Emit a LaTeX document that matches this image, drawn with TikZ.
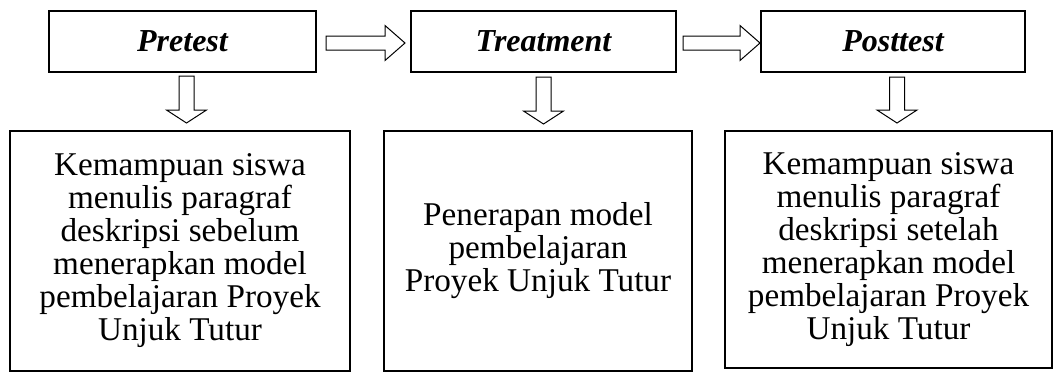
\documentclass[tikz,border=0pt]{standalone}
\usepackage{fontspec}
\setmainfont{Liberation Serif}
\usetikzlibrary{calc}

% block arrows: #1 tail, #2 tip
\newcommand{\blockright}[2]{%
  \draw[blockarrow] let \p1=(#1), \p2=(#2) in
    (\x1,\y1+3.5pt) -- (\x2-10pt,\y1+3.5pt) -- (\x2-10pt,\y1+8.75pt) -- (\x2,\y1)
    -- (\x2-10pt,\y1-8.75pt) -- (\x2-10pt,\y1-3.5pt) -- (\x1,\y1-3.5pt) -- cycle;}
\newcommand{\blockdown}[2]{%
  \draw[blockarrow] let \p1=(#1), \p2=(#2) in
    (\x1-3.75pt,\y1) -- (\x1-3.75pt,\y2+6.5pt) -- (\x1-10pt,\y2+6.5pt) -- (\x1,\y2)
    -- (\x1+10pt,\y2+6.5pt) -- (\x1+3.75pt,\y2+6.5pt) -- (\x1+3.75pt,\y1) -- cycle;}

\tikzset{
  stage/.style={draw, line width=0.9pt, inner sep=0pt, outer sep=0pt,
    minimum height=30.5pt, font=\fontsize{16}{16.5}\selectfont\bfseries\itshape},
  detail/.style={draw, line width=0.9pt, inner sep=0pt, outer sep=0pt, align=center,
    font=\fontsize{16.6}{16.5}\selectfont},
  blockarrow/.style={draw, line width=0.5pt, line join=miter}
}

\begin{document}
\begin{tikzpicture}[x=0.5pt, y=-0.5pt]
    \useasboundingbox (0,0) rectangle (1059,372);

    % Stages
    \node[stage, minimum width=133.5pt] (pre) at (182.5, 41.5) {Pretest};
    \node[stage, minimum width=132.5pt] (treat) at (543.5, 41.5) {Treatment};
    \node[stage, minimum width=132pt] (post) at (893, 41.5) {Posttest};

    % Descriptions
    \node[detail, minimum width=170pt, minimum height=120pt] (predesc) at (180, 251)
      {Kemampuan siswa\\ menulis paragraf\\ deskripsi sebelum\\ menerapkan model\\ pembelajaran Proyek\\ Unjuk Tutur};
    \node[detail, minimum width=154pt, minimum height=120pt] (treatdesc) at (538, 251)
      {Penerapan model\\ pembelajaran\\ Proyek Unjuk Tutur};
    \node[detail, minimum width=163.5pt, minimum height=118.5pt] (postdesc) at (888.5, 249.5)
      {Kemampuan siswa\\ menulis paragraf\\ deskripsi setelah\\ menerapkan model\\ pembelajaran Proyek\\ Unjuk Tutur};

    % Arrows between stages
    \blockright{$(pre.east)+(10,1.5)$}{$(treat.west)+(-6,1.5)$}
    \blockright{$(treat.east)+(7,1.5)$}{$(post.west)+(-1,1.5)$}

    % Arrows down to descriptions
    \blockdown{$(pre.south)+(4,4)$}{$(predesc.north)+(6,-8)$}
    \blockdown{$(treat.south)+(0,5)$}{$(treatdesc.north)+(5,-7)$}
    \blockdown{$(post.south)+(4,5)$}{$(postdesc.north)+(8,-8)$}

\end{tikzpicture}
\end{document}
